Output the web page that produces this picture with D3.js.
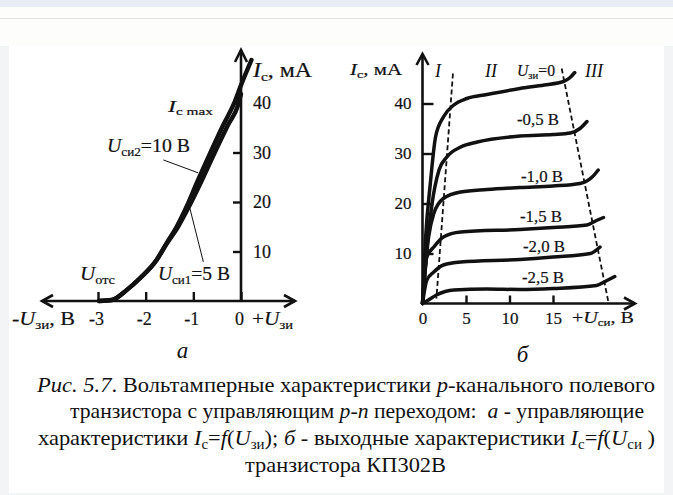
<!DOCTYPE html>
<html lang="ru">

<head>
  <meta charset='utf-8'>
  <title>Рис. 5.7</title>
  <script type="text/javascript" src="https://cdn.jsdelivr.net/npm/d3@7/dist/d3.min.js"></script>
  <style type="text/css">
    body {
      margin: 0;
      background: #fff;
    }
    svg {
      display: block;
    }
    text {
      font-family: "Liberation Serif", "Times New Roman", serif;
      fill: #111;
      white-space: pre;
    }
  </style>
</head>

<body>

  <script type="text/javascript">
    // a - управляющие характеристики, Uзи (В) -> Ic (мА)
    var gateV10 = [-2.98, -2.71, -2.40, -2.12, -1.77, -1.56, -1.35, -1.14, -0.93, -0.65, -0.37, -0.16, 0, 0.22];
    var drainI10 = [0, 0.2, 2.2, 4.6, 8.3, 11.7, 15.0, 19.1, 23.8, 29.8, 35.6, 39.6, 43.6, 48.7];
    var gateV5 = [-2.98, -2.71, -2.40, -2.12, -1.77, -1.55, -1.32, -1.09, -0.85, -0.56, -0.27, -0.06, 0];
    var drainI5 = [0, 0.2, 2.2, 4.6, 8.3, 11.7, 15.0, 19.1, 23.8, 29.8, 35.6, 39.6, 41.8];
    var gateTicks = [-3, -2, -1, 0];
    var currentTicks = [10, 20, 30, 40];

    // б - выходные характеристики, Uси (В) -> Ic (мА)
    var uds0 = [0, 0.35, 0.9, 1.5, 2.4, 3.6, 5.1, 7.4, 11.2, 14, 16.2, 16.9, 17.5];
    var ids0 = [0, 13, 24, 33.3, 37.3, 39.7, 41, 41.8, 43, 43.7, 44.4, 45.1, 46.2];
    var uds05 = [0, 0.5, 1.1, 1.9, 2.8, 4.4, 6.3, 11.2, 15, 17, 18.1, 18.9];
    var ids05 = [0, 11, 20, 26.7, 29.3, 31.3, 32.3, 33.5, 33.8, 34.1, 35, 36.4];
    var uds10 = [0, 0.7, 1.3, 2.4, 4.4, 7.4, 11.2, 15, 18.1, 19.5, 20.2];
    var ids10 = [0, 13.3, 18, 21, 22.3, 22.8, 23.2, 23.5, 24, 25.3, 26.7];
    var uds15 = [0, 0.5, 1.3, 2.4, 4.4, 11.2, 15, 18.9, 20, 20.8];
    var ids15 = [0, 9.3, 11.3, 13.3, 14.3, 14.8, 15.2, 15.7, 16.6, 17.2];
    var uds20 = [0, 0.5, 1.3, 2.4, 4.4, 11.2, 15, 19.3, 20.4];
    var ids20 = [0, 4.7, 6.3, 7.7, 8.3, 8.8, 9.3, 10, 11.3];
    var uds25 = [0, 0.5, 1.6, 3.6, 7.4, 11.2, 15, 20, 21.2, 22.1];
    var ids25 = [0, 0.5, 1.7, 2.7, 2.9, 2.8, 3, 3.6, 4.6, 5.4];
    var gateLabels = ['-0,5 В', '-1,0 В', '-1,5 В', '-2,0 В', '-2,5 В'];
    var drainTicks = [0, 5, 10, 15];
    // границы областей I / II / III
    var borderU1 = [3.5, 1.6], borderI1 = [46, 1];
    var borderU2 = [16.0, 21.4], borderI2 = [47, 0];

    var W = 673, H = 495;

    var svg = d3.select('body').append('svg')
      .attr('width', W)
      .attr('height', H);

    // page around the figure
    svg.append('rect').attr('width', W).attr('height', H).attr('fill', '#f3f4f6');
    svg.append('rect').attr('width', W).attr('height', 46).attr('fill', '#fdfdfb');
    svg.append('rect').attr('width', W).attr('height', 7).attr('fill', '#e7ecf5');
    svg.append('line').attr('x1', 0).attr('x2', W).attr('y1', 18.5).attr('y2', 18.5)
      .attr('stroke', '#e1e1e1');
    svg.append('rect').attr('x', 9).attr('y', 46).attr('width', 655).attr('height', 447).attr('fill', '#fff');

    function chevron(g, x, y, dx, dy, len, half) {
      // open arrow head, tip at (x, y), pointing along (dx, dy)
      var bx = x - dx * len, by = y - dy * len;
      g.append('path')
        .attr('d', 'M' + (bx - dy * half) + ',' + (by + dx * half) + 'L' + x + ',' + y +
          'L' + (bx + dy * half) + ',' + (by - dx * half))
        .attr('fill', 'none')
        .attr('stroke', '#111')
        .attr('stroke-width', 2.6)
        .attr('stroke-linejoin', 'miter');
    }

    // text with italic / subscript pieces
    function rich(g, x, y, size, parts, width, anchor, weight) {
      var t = g.append('text')
        .attr('x', x)
        .attr('y', y)
        .attr('font-size', size)
        .attr('text-anchor', anchor || 'start');
      if (weight) t.attr('stroke', '#111').attr('stroke-width', weight);
      var shifted = 0;
      parts.forEach(function (p) {
        var s = t.append('tspan').text(p[0]);
        var want = p[1] === 'sub' ? Math.round(size * 0.2) : 0;
        if (want !== shifted) {
          s.attr('dy', want - shifted);
          shifted = want;
        }
        if (p[1] === 'it') s.attr('font-style', 'italic');
        if (p[1] === 'sub') s.attr('font-size', Math.round(size * 0.66));
      });
      if (width) t.attr('textLength', width).attr('lengthAdjust', 'spacingAndGlyphs');
      return t;
    }

    function styleAxis(ax, size) {
      ax.select('.domain').remove();
      ax.selectAll('.tick line').attr('stroke', '#111').attr('stroke-width', 2.4);
      ax.selectAll('.tick text')
        .attr('fill', '#111')
        .attr('stroke', '#111')
        .attr('stroke-width', 0.2)
        .style('font-family', '"Liberation Serif", "Times New Roman", serif')
        .style('font-size', size + 'px');
    }

    // ---------- a ----------
    var xA = d3.scaleLinear().domain([-3, 0]).range([98, 241]);
    var yA = d3.scaleLinear().domain([0, 40]).range([301, 103]);
    var gA = svg.append('g');

    gA.append('line').attr('x1', 42).attr('x2', 295).attr('y1', yA(0)).attr('y2', yA(0))
      .attr('stroke', '#111').attr('stroke-width', 2.6);
    gA.append('line').attr('x1', xA(0)).attr('x2', xA(0)).attr('y1', yA(0)).attr('y2', 50)
      .attr('stroke', '#111').attr('stroke-width', 2.6);
    chevron(gA, 42, yA(0), -1, 0, 11, 6);
    chevron(gA, 295, yA(0), 1, 0, 11, 6);
    chevron(gA, xA(0), 50, 0, -1, 12, 6);

    var axXA = gA.append('g')
      .attr('transform', 'translate(0,' + yA(0) + ')')
      .call(d3.axisBottom(xA).tickValues(gateTicks).tickSizeInner(-9).tickSizeOuter(0)
        .tickPadding(11).tickFormat(String));
    styleAxis(axXA, 18);
    axXA.selectAll('.tick text').attr('dx', -2);

    var axYA = gA.append('g')
      .attr('transform', 'translate(' + xA(0) + ',0)')
      .call(d3.axisRight(yA).tickValues(currentTicks).tickSizeInner(-8).tickSizeOuter(0)
        .tickPadding(12).tickFormat(String));
    styleAxis(axYA, 18);

    var lineA = d3.line()
      .x(function (d) { return xA(d[0]); })
      .y(function (d) { return yA(d[1]); })
      .curve(d3.curveMonotoneX);

    [[gateV5, drainI5], [gateV10, drainI10]].forEach(function (c) {
      gA.append('path')
        .datum(d3.zip(c[0], c[1]))
        .attr('d', lineA)
        .attr('fill', 'none')
        .attr('stroke', '#111')
        .attr('stroke-width', 4.4)
        .attr('stroke-linecap', 'round');
    });

    // leader lines to the curves
    [[[-1.63, 28.5], [-0.90, 25.9]], [[-0.79, 7.9], [-1.09, 19.4]]].forEach(function (l) {
      gA.append('line')
        .attr('x1', xA(l[0][0])).attr('y1', yA(l[0][1]))
        .attr('x2', xA(l[1][0])).attr('y2', yA(l[1][1]))
        .attr('stroke', '#111').attr('stroke-width', 1);
    });

    rich(gA, 253, 77, 20, [['I', 'it'], ['с', 'sub'], [', мА', '']], 59, null, 0.2);
    rich(gA, 168, 112, 17, [['I', 'it'], ['с max', 'sub']], 45, null, 0.2);
    rich(gA, 107, 152, 18, [['U', 'it'], ['си2', 'sub'], ['=10 В', '']], 83, null, 0.2);
    rich(gA, 80, 280, 19, [['U', 'it'], ['отс', 'sub']], 35, null, 0.2);
    rich(gA, 158, 280, 18, [['U', 'it'], ['си1', 'sub'], ['=5 В', '']], 72, null, 0.2);
    rich(gA, 12, 325, 19, [['-', ''], ['U', 'it'], ['зи', 'sub'], [', В', '']], 63, null, 0.2);
    rich(gA, 252, 325, 19, [['+', ''], ['U', 'it'], ['зи', 'sub']], 41, null, 0.2);
    rich(gA, 182.5, 358, 23, [['a', 'it']], null, 'middle');

    // ---------- б ----------
    var xB = d3.scaleLinear().domain([0, 15]).range([422.5, 553]);
    var yB = d3.scaleLinear().domain([0, 40]).range([303.5, 103.5]);
    var gB = svg.append('g');

    gB.append('line').attr('x1', xB(0)).attr('x2', 635).attr('y1', yB(0)).attr('y2', yB(0))
      .attr('stroke', '#111').attr('stroke-width', 2.6);
    gB.append('line').attr('x1', xB(0)).attr('x2', xB(0)).attr('y1', yB(0)).attr('y2', 54)
      .attr('stroke', '#111').attr('stroke-width', 2.6);
    chevron(gB, 635, yB(0), 1, 0, 11, 6);
    chevron(gB, xB(0), 54, 0, -1, 11, 6);

    var axXB = gB.append('g')
      .attr('transform', 'translate(0,' + yB(0) + ')')
      .call(d3.axisBottom(xB).tickValues(drainTicks).tickSizeInner(-8).tickSizeOuter(0)
        .tickPadding(8).tickFormat(String));
    styleAxis(axXB, 17);

    var axYB = gB.append('g')
      .attr('transform', 'translate(' + xB(0) + ',0)')
      .call(d3.axisLeft(yB).tickValues(currentTicks).tickSizeInner(-11).tickSizeOuter(0)
        .tickPadding(11).tickFormat(String));
    styleAxis(axYB, 17);

    var lineB = d3.line()
      .x(function (d) { return xB(d[0]); })
      .y(function (d) { return yB(d[1]); })
      .curve(d3.curveMonotoneX);

    [[uds0, ids0], [uds05, ids05], [uds10, ids10], [uds15, ids15], [uds20, ids20], [uds25, ids25]]
      .forEach(function (c) {
        gB.append('path')
          .datum(d3.zip(c[0], c[1]))
          .attr('d', lineB)
          .attr('fill', 'none')
          .attr('stroke', '#111')
          .attr('stroke-width', 3.5)
          .attr('stroke-linecap', 'round');
      });

    [[borderU1, borderI1], [borderU2, borderI2]].forEach(function (b) {
      gB.append('path')
        .datum(d3.zip(b[0], b[1]))
        .attr('d', d3.line().x(function (d) { return xB(d[0]); }).y(function (d) { return yB(d[1]); }))
        .attr('fill', 'none')
        .attr('stroke', '#111')
        .attr('stroke-width', 1.8)
        .attr('stroke-dasharray', '5,3');
    });

    rich(gB, 350, 75, 16, [['I', 'it'], ['с', 'sub'], [', мА', '']], 52, null, 0.2);
    rich(gB, 435, 77, 18, [['I', 'it']]);
    rich(gB, 485, 77, 18, [['II', 'it']]);
    rich(gB, 585, 77, 18, [['III', 'it']]);
    rich(gB, 517, 76, 16, [['U', 'it'], ['зи', 'sub'], ['=0', '']], 38, null, 0.2);

    var labelX = [517, 521, 520, 523, 522];
    var labelY = [125, 181.5, 221.5, 251.5, 283];
    gateLabels.forEach(function (s, i) {
      rich(gB, labelX[i], labelY[i], 16, [[s, '']], 42, null, 0.2);
    });

    rich(gB, 572, 323, 17, [['+', ''], ['U', 'it'], ['си', 'sub'], [', В', '']], 62, null, 0.2);
    rich(gB, 522.5, 361.5, 23, [['б', 'it']], null, 'middle');

    // ---------- подпись ----------
    var gC = svg.append('g');
    rich(gC, 37, 391.7, 21, [['Рис. 5.7', 'it'], ['. Вольтамперные характеристики ', ''], ['p', 'it'],
      ['-канального полевого', '']], 618);
    rich(gC, 70, 418.3, 21, [['транзистора с управляющим ', ''], ['p-n', 'it'], [' переходом:  ', ''],
      ['a', 'it'], [' - управляющие', '']], 574);
    rich(gC, 38, 445, 21, [['характеристики ', ''], ['I', 'it'], ['с', 'sub'], ['=', ''], ['f', 'it'],
      ['(', ''], ['U', 'it'], ['зи', 'sub'], ['); ', ''], ['б', 'it'], [' - выходные характеристики ', ''],
      ['I', 'it'], ['с', 'sub'], ['=', ''], ['f', 'it'], ['(', ''], ['U', 'it'], ['си', 'sub'], [' )', '']], 617);
    rich(gC, 245, 471.7, 21, [['транзистора КП302В', '']], 201);
  </script>

</body>

</html>
